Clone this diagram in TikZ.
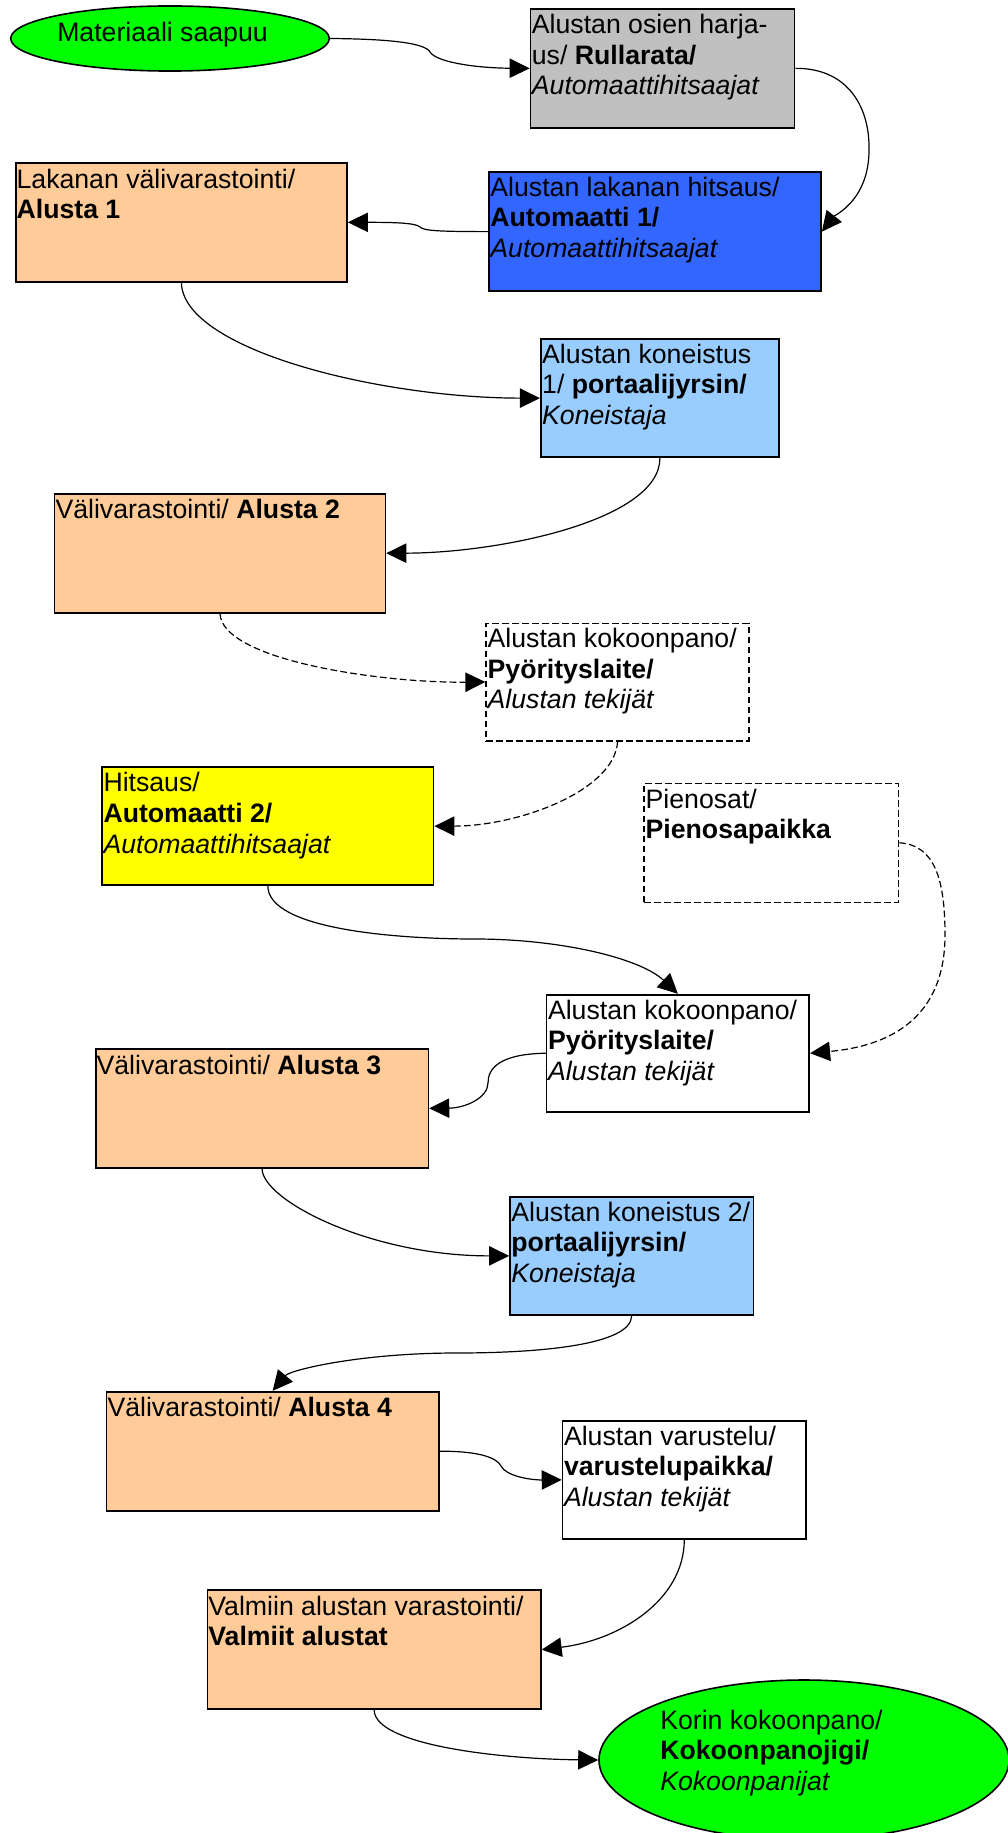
\documentclass[tikz,border=0pt]{standalone}
\usepackage{fontspec}
\setmainfont{Liberation Sans}
\usetikzlibrary{arrows.meta,shapes.geometric,fit,calc}
\definecolor{startgreen}{HTML}{00FF00}
\definecolor{brushgray}{HTML}{C0C0C0}
\definecolor{storepeach}{HTML}{FFCC99}
\definecolor{weldblue}{HTML}{3366FF}
\definecolor{millblue}{HTML}{99CCFF}
\definecolor{weldyellow}{HTML}{FFFF00}
\newcommand\celltext[1]{\begin{tabular}[t]{@{}l@{}}#1\end{tabular}}
\begin{document}
\begin{tikzpicture}[x=0.75pt,y=-0.75pt,
  box/.style={draw=black, line width=1.3pt, inner sep=0pt, rectangle},
  dbox/.style={box, line width=1.2pt, dash pattern=on 5pt off 2.5pt},
  oval/.style={draw=black, line width=1.2pt, ellipse, inner sep=0pt, fill=startgreen},
  lbl/.style={inner sep=0pt, anchor=base west, font=\fontsize{20pt}{22.9pt}\selectfont},
  flow/.style={line width=0.9pt, -{Triangle[length=15pt,width=14.5pt]}},
  dflow/.style={flow, dash pattern=on 5pt off 2.5pt},
]
\useasboundingbox (0,0) rectangle (1007,1833);

% process steps
\node[oval, minimum width=238.9pt, minimum height=48.8pt] (ell1) at (170,38.5) {};
\node[box, fill=brushgray, fit={(530.5,9) (794.5,127.7)}] (gray) {};
\node[box, fill=storepeach, fit={(15.7,163) (347,281.7)}] (peach1) {};
\node[box, fill=weldblue, fit={(489,172.3) (821,291)}] (blue) {};
\node[box, fill=millblue, fit={(540.8,339) (779,457.3)}] (lb1) {};
\node[box, fill=storepeach, fit={(54.6,493.7) (385.4,612.7)}] (peach2) {};
\node[dbox, fill=white, fit={(486.2,623.3) (748.9,740.7)}] (asm1) {};
\node[box, fill=weldyellow, fit={(102.1,767.3) (433.5,885)}] (yellow) {};
\node[dbox, fill=white, fit={(644.2,783.3) (898.5,902.3)}] (pien) {};
\node[box, fill=white, fit={(546.6,994.7) (809.2,1111.7)}] (asm2) {};
\node[box, fill=storepeach, fit={(95.7,1049) (428.4,1167.7)}] (peach3) {};
\node[box, fill=millblue, fit={(510,1196.7) (753.4,1315)}] (lb2) {};
\node[box, fill=storepeach, fit={(106.6,1391.7) (438.7,1510.7)}] (peach4) {};
\node[box, fill=white, fit={(562.6,1420.7) (806,1539)}] (equip) {};
\node[box, fill=storepeach, fit={(207.5,1590) (540.8,1709.3)}] (peach5) {};
\node[oval, minimum width=307.5pt, minimum height=120pt] (ell2) at (804,1760) {};

% labels
\node[lbl] (ell1-t) at ($(ell1.center)+(-113,3.2)$) {Materiaali saapuu};
\node[lbl] (gray-t) at ($(gray.north west)+(2,25.5)$) {\celltext{Alustan osien harja-\\us/ \textbf{Rullarata/}\\\textit{Automaattihitsaajat}}};
\node[lbl] (peach1-t) at ($(peach1.north west)+(1.5,26)$) {\celltext{Lakanan välivarastointi/\\\textbf{Alusta 1}}};
\node[lbl] (blue-t) at ($(blue.north west)+(2,25)$) {\celltext{Alustan lakanan hitsaus/\\\textbf{Automaatti 1/}\\\textit{Automaattihitsaajat}}};
\node[lbl] (lb1-t) at ($(lb1.north west)+(2,25)$) {\celltext{Alustan koneistus\\1/ \textbf{portaalijyrsin/}\\\textit{Koneistaja}}};
\node[lbl] (peach2-t) at ($(peach2.north west)+(1.5,26)$) {\celltext{Välivarastointi/ \textbf{Alusta 2}}};
\node[lbl] (asm1-t) at ($(asm1.north west)+(2,25)$) {\celltext{Alustan kokoonpano/\\\textbf{Pyörityslaite/}\\\textit{Alustan tekijät}}};
\node[lbl] (yellow-t) at ($(yellow.north west)+(2,25.5)$) {\celltext{Hitsaus/\\\textbf{Automaatti 2/}\\\textit{Automaattihitsaajat}}};
\node[lbl] (pien-t) at ($(pien.north west)+(2,25.5)$) {\celltext{Pienosat/\\\textbf{Pienosapaikka}}};
\node[lbl] (asm2-t) at ($(asm2.north west)+(2,25.5)$) {\celltext{Alustan kokoonpano/\\\textbf{Pyörityslaite/}\\\textit{Alustan tekijät}}};
\node[lbl] (peach3-t) at ($(peach3.north west)+(1.5,26)$) {\celltext{Välivarastointi/ \textbf{Alusta 3}}};
\node[lbl] (lb2-t) at ($(lb2.north west)+(2,25.5)$) {\celltext{Alustan koneistus 2/\\\textbf{portaalijyrsin/}\\\textit{Koneistaja}}};
\node[lbl] (peach4-t) at ($(peach4.north west)+(1.5,26)$) {\celltext{Välivarastointi/ \textbf{Alusta 4}}};
\node[lbl] (equip-t) at ($(equip.north west)+(2,25.5)$) {\celltext{Alustan varustelu/\\\textbf{varustelupaikka/}\\\textit{Alustan tekijät}}};
\node[lbl] (peach5-t) at ($(peach5.north west)+(1.5,26)$) {\celltext{Valmiin alustan varastointi/\\\textbf{Valmiit alustat}}};
\node[lbl] (ell2-t) at ($(ell2.center)+(-144,-31)$) {\celltext{Korin kokoonpano/\\\textbf{Kokoonpanojigi/}\\\textit{Kokoonpanijat}}};

% flow connectors
\draw[flow] (ell1.east) .. controls (390,39) and (425,43) .. (430,52)
  .. controls (436,62) and (475,68) .. (gray.west);
\draw[flow] (gray.east) .. controls (850,68) and (870,110) .. (869,150)
  .. controls (869,200) and (835,215) .. (blue.east);
\draw[flow] (blue.west) .. controls (440,231.5) and (424,231) .. (420,227)
  .. controls (416,223) and (395,222.3) .. (peach1.east);
\draw[flow] (peach1.south) .. controls (183,350) and (380,398) .. (lb1.west);
\draw[flow] (lb1.south) .. controls (660,520) and (500,553) .. (peach2.east);
\draw[dflow] (peach2.south) .. controls (222,660) and (380,683) .. (asm1.west);
\draw[dflow] (asm1.south) .. controls (615,790) and (520,826) .. (yellow.east);
\draw[flow] (yellow.south) .. controls (268,930) and (400,939) .. (475,939)
  .. controls (560,939) and (640,958) .. (asm2.north);
\draw[dflow] (pien.east) .. controls (935,845) and (945,880) .. (945,935)
  .. controls (945,1010) and (900,1045) .. (asm2.east);
\draw[flow] (asm2.west) .. controls (500,1054) and (488,1068) .. (488,1083)
  .. controls (488,1098) and (465,1108) .. (peach3.east);
\draw[flow] (peach3.south) .. controls (262,1200) and (370,1256) .. (lb2.west);
\draw[flow] (lb2.south) .. controls (631,1345) and (540,1353) .. (456,1353)
  .. controls (360,1353) and (290,1370) .. (peach4.north);
\draw[flow] (peach4.east) .. controls (480,1451) and (497,1458) .. (501,1466)
  .. controls (506,1476) and (530,1480) .. (equip.west);
\draw[flow] (equip.south) .. controls (684,1600) and (620,1640) .. (peach5.east);
\draw[flow] (peach5.south) .. controls (375,1745) and (500,1759) .. (ell2.west);
\end{tikzpicture}
\end{document}
